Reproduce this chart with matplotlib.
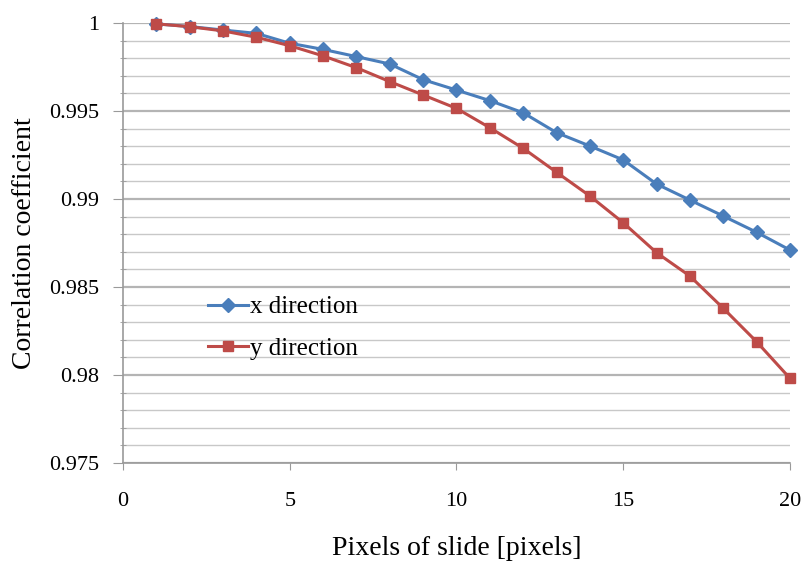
import matplotlib
matplotlib.use("Agg")
import matplotlib.pyplot as plt
from matplotlib.ticker import MultipleLocator, FixedLocator

plt.rcParams['font.family'] = ['Liberation Serif', 'DejaVu Serif']

shift = list(range(1, 21))
x_direction = [0.99995, 0.9998, 0.9996, 0.99941, 0.99885, 0.9985, 0.99809, 0.99767, 0.99678,
               0.99619, 0.99559, 0.9949, 0.99377, 0.99301, 0.99222, 0.99085, 0.98994,
               0.98903, 0.98811, 0.9871]
y_direction = [0.99995, 0.99979, 0.99955, 0.99919, 0.99871, 0.99813, 0.99746, 0.99667, 0.99591,
               0.99515, 0.99405, 0.99288, 0.99152, 0.99017, 0.98865, 0.98695, 0.98562,
               0.98379, 0.98189, 0.97981]
x_ticks = [0, 5, 10, 15, 20]
y_ticks = [0.975, 0.98, 0.985, 0.99, 0.995, 1.0]
y_tick_labels = ['0.975', '0.98', '0.985', '0.99', '0.995', '1']

fig = plt.figure(figsize=(8.02, 5.61), dpi=100)
ax = fig.add_axes([0.1534, 0.1747, 0.8316, 0.7843])

ax.set_ylim(0.975, 1.0)
ax.set_xlim(0, 20)
ax.yaxis.set_major_locator(FixedLocator(y_ticks))
ax.yaxis.set_minor_locator(MultipleLocator(0.001))
ax.set_yticklabels(y_tick_labels)
ax.set_xticks(x_ticks)
ax.grid(which='minor', axis='y', color='#c8c8c8', linewidth=1.0)
ax.grid(which='major', axis='y', color='#b4b4b4', linewidth=1.6)
ax.set_axisbelow(True)

blue = '#4a7ebb'
red = '#be4b48'
ax.plot(shift, x_direction, color=blue, linewidth=2.2, marker='D', markersize=7,
        label='x direction', clip_on=False, zorder=3)
ax.plot(shift, y_direction, color=red, linewidth=2.2, marker='s', markersize=7,
        label='y direction', clip_on=False, zorder=3)

for s in ['top', 'right']:
    ax.spines[s].set_visible(False)
for s in ['left', 'bottom']:
    ax.spines[s].set_color('#9a9a9a')
    ax.spines[s].set_linewidth(1.2)

ax.tick_params(axis='y', which='major', length=7, color='#9a9a9a', direction='out',
               labelsize=16, pad=10)
ax.tick_params(axis='y', which='minor', length=4, color='#9a9a9a', direction='inout')
ax.tick_params(axis='x', which='major', length=5, color='#9a9a9a', direction='out',
               labelsize=16, pad=16)

ax.set_xlabel('Pixels of slide [pixels]', fontsize=20, labelpad=18)
ax.set_ylabel('Correlation coefficient', fontsize=20, labelpad=9)

ax.legend(loc='upper left', bbox_to_anchor=(0.127, 0.38), frameon=False, fontsize=18,
          handlelength=1.6, handletextpad=0.1, labelspacing=0.75,
          borderaxespad=0, borderpad=0)

fig.savefig('out.png', dpi=100)
